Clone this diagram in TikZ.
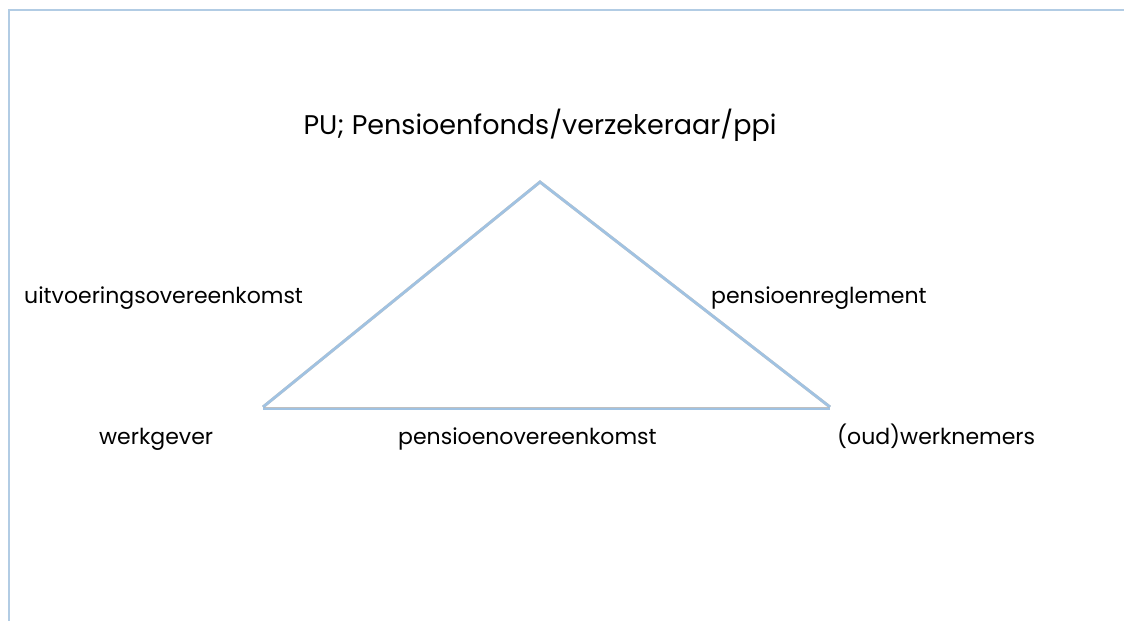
\documentclass[tikz,border=0pt]{standalone}
\usepackage{fontspec}
\setmainfont{Poppins}
\definecolor{frameblue}{RGB}{178,204,228}
\definecolor{triblue}{RGB}{160,194,226}
\definecolor{shadowgray}{RGB}{165,165,165}
\tikzset{
  lbl/.style={font=\fontsize{22}{26}\selectfont, inner sep=0pt, anchor=base west},
  tri/.style={draw=triblue, line width=2.6pt, line join=miter},
  trishadow/.style={draw=shadowgray, line width=3pt, opacity=0.7},
  frame/.style={draw=frameblue, line width=2pt}
}
\begin{document}
\begin{tikzpicture}[x=1pt,y=1pt]
\useasboundingbox (0,0) rectangle (1124,621);
% frame
\coordinate (ftr) at (1124,611);
\coordinate (ftl) at (9,611);
\coordinate (fbl) at (9,0);
\draw[frame] (ftr) -- (ftl) -- (fbl);
% triangle corners
\coordinate (A) at (540,439);
\coordinate (L) at (263,214);
\coordinate (R) at (830,214);
\coordinate (Lb) at (263,212);
\coordinate (Rb) at (830,212);
\begin{scope}[shift={(1.8,-2.6)}]
\draw[trishadow] (L) -- (A) -- (R);
\draw[trishadow] (Lb) -- (Rb);
\end{scope}
\draw[tri] (L) -- (A) -- (R);
\draw[tri] (Lb) -- (Rb);
% labels
\node[font=\fontsize{27}{32}\selectfont, inner sep=0pt, anchor=base] (pu) at (540,486) {PU; Pensioenfonds/verzekeraar/ppi};
\node[lbl] (uo) at (24,317) {uitvoeringsovereenkomst};
\node[lbl] (pr) at (711,317) {pensioenreglement};
\node[lbl] (wg) at (99,176) {werkgever};
\node[lbl] (po) at (398,176) {pensioenovereenkomst};
\node[lbl] (wn) at (837,176) {(oud)werknemers};
\end{tikzpicture}
\end{document}
